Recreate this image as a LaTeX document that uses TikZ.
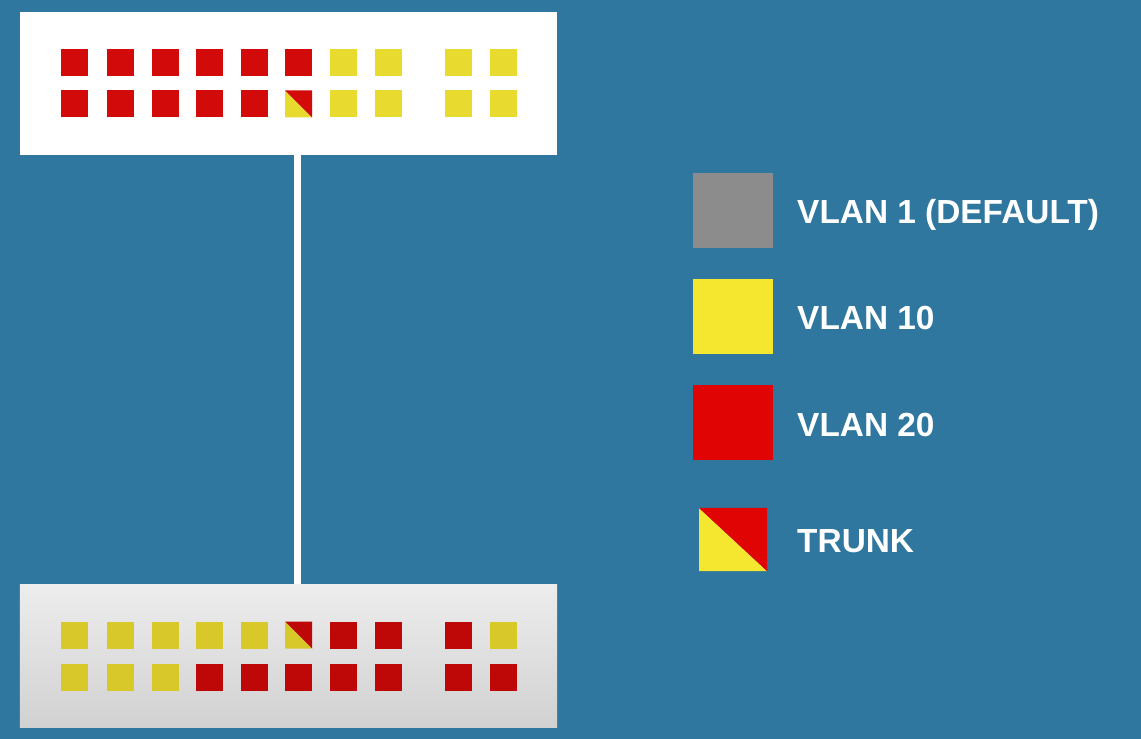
\documentclass[tikz,border=0pt]{standalone}
\usepackage{fontspec}
\setmainfont{Liberation Sans}
\usepackage{tikz}
\usetikzlibrary{positioning,
				calc}
\definecolor{bgblue}{HTML}{2F779E}
\definecolor{redA}{HTML}{D30A0A}
\definecolor{yelA}{HTML}{E8DA2E}
\definecolor{redB}{HTML}{BE0808}
\definecolor{yelB}{HTML}{D8C82A}
\definecolor{keygray}{HTML}{8C8C8C}
\definecolor{keyyel}{HTML}{F5E630}
\definecolor{keyred}{HTML}{E00404}

\begin{document}
\begin{tikzpicture}[x=0.03cm, y=-0.03cm,
		port/.style={inner sep=0pt, minimum size=0.81cm},
		halfport/.style 2 args={port, path picture={
			\fill[#1] (path picture bounding box.north west) -- (path picture bounding box.south west) -- (path picture bounding box.south east) -- cycle;
			\fill[#2] (path picture bounding box.north west) -- (path picture bounding box.north east) -- (path picture bounding box.south east) -- cycle;}},
		topR/.style={port, fill=redA}, topY/.style={port, fill=yelA}, topT/.style={halfport={yelA}{redA}},
		botR/.style={port, fill=redB}, botY/.style={port, fill=yelB}, botT/.style={halfport={yelB}{redB}},
		switchbox/.style={inner sep=0pt, minimum width=16.11cm, minimum height=4.3cm},
		link/.style={white, line width=0.21cm},
		keybox/.style={inner sep=0pt, minimum width=2.4cm, minimum height=2.25cm},
		keytext/.style={anchor=base west, inner sep=0pt, text=white, font=\fontsize{28.5}{30}\selectfont\bfseries}]
	\useasboundingbox[fill=bgblue] (0,0) rectangle (1141,739);
	% switches
	\node[switchbox, fill=white] (swtop) at (288.5,83.5) {};
	\node[switchbox, top color=black!7, bottom color=black!18] (swbot) at (288.5,656) {};
	% ports, top switch
	\foreach \x/\a/\b [count=\i] in {74.5/R/R, 120/R/R, 165/R/R, 209.5/R/R, 254/R/R,
			298.5/R/T, 343/Y/Y, 388.5/Y/Y, 458/Y/Y, 503/Y/Y}{
		\node[top\a] (ta\i) at (\x,63) {};
		\node[top\b] (tb\i) at (\x,104) {};
	}
	% ports, bottom switch
	\foreach \x/\a/\b [count=\i] in {74.5/Y/Y, 120/Y/Y, 165/Y/Y, 209.5/Y/R, 254/Y/R,
			298.5/T/R, 343/R/R, 388.5/R/R, 458/R/R, 503/Y/R}{
		\node[bot\a] (ba\i) at (\x,635) {};
		\node[bot\b] (bb\i) at (\x,677) {};
	}
	% trunk link
	\draw[link] ($(tb6 |- swtop.south)+(-1,0)$) -- ($(tb6 |- swbot.north)+(-1,0)$);
	% legend
	\node[keybox, fill=keygray] (kdef) at (733,210.5) {};
	\node[keybox, fill=keyyel] (kten) at (733,316.5) {};
	\node[keybox, fill=keyred] (ktwenty) at (733,422.5) {};
	\node[halfport={keyyel}{keyred}, minimum width=2.04cm, minimum height=1.89cm] (ktrunk) at (733,539.5) {};
	\node[keytext] (ldef) at (797,224) {VLAN 1 (DEFAULT)};
	\node[keytext] (lten) at (797,330) {VLAN 10};
	\node[keytext] (ltwenty) at (797,436) {VLAN 20};
	\node[keytext] (ltrunk) at (797,552) {TRUNK};
\end{tikzpicture}
\end{document}
